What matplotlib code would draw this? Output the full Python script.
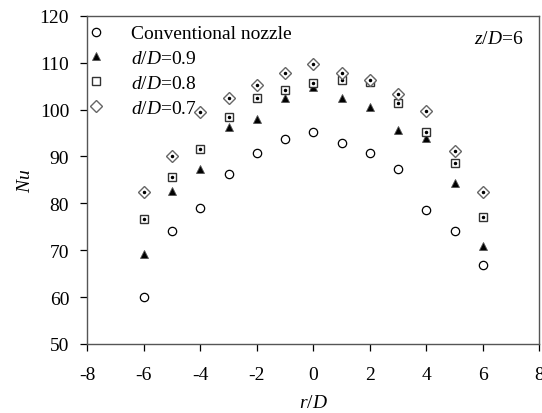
import matplotlib
matplotlib.use("Agg")
import matplotlib.pyplot as plt

plt.rcParams['font.family'] = ['Liberation Serif', 'DejaVu Serif']
plt.rcParams['mathtext.fontset'] = 'custom'
plt.rcParams['mathtext.it'] = 'Liberation Serif:italic'
plt.rcParams['mathtext.rm'] = 'Liberation Serif'
plt.rcParams['axes.unicode_minus'] = False

# --- DATA ---
r_D = [-6, -5, -4, -3, -2, -1, 0, 1, 2, 3, 4, 5, 6]
nu_conv = [60.0, 74.2, 79.0, 86.2, 90.8, 93.8, 95.3, 92.8, 90.8, 87.3, 78.5, 74.2, 66.8]
nu_09 = [69.2, 82.6, 87.3, 96.4, 98.0, 102.5, 104.8, 102.5, 100.5, 95.6, 93.9, 84.3, 70.8]
nu_08 = [76.6, 85.6, 91.6, 98.5, 102.4, 104.3, 105.7, 106.3, 105.8, 101.4, 95.3, 88.7, 77.0]
nu_07 = [82.5, 90.1, 99.4, 102.4, 105.3, 107.9, 109.8, 107.9, 106.3, 103.4, 99.8, 91.2, 82.4]
labels = ['Conventional nozzle', '$d/D$=0.9', '$d/D$=0.8', '$d/D$=0.7']

fig = plt.figure(figsize=(5.42, 4.14), dpi=100)
ax = fig.add_axes([0.161, 0.167, 0.834, 0.792])

ax.plot(r_D, nu_conv, 'o', ms=6, mfc='white', mec='black', mew=0.9, label=labels[0])
ax.plot(r_D, nu_09, '^', ms=6, mfc='black', mec='#555555', mew=0.6, label=labels[1])
ax.plot(r_D, nu_08, 's', ms=6, mfc='white', mec='#333333', mew=1.0, label=labels[2])
ax.plot(r_D, nu_08, '.', ms=3, color='black')
ax.plot(r_D, nu_07, 'D', ms=6, mfc='white', mec='#666666', mew=1.0, label=labels[3])
ax.plot(r_D, nu_07, '.', ms=3, color='black')

ax.set_xlim(-8, 8)
ax.set_ylim(50, 120)
ax.set_xticks(range(-8, 9, 2))
ax.set_yticks(range(50, 121, 10))
ax.tick_params(direction='out', length=5, width=0.9, labelsize=14, colors='black',
               top=False, right=False)
ax.tick_params(axis='y', pad=8)
ax.tick_params(axis='x', pad=11)
for s in ax.spines.values():
    s.set_color('#555555')
    s.set_linewidth(1.0)

ax.set_xlabel('$r/D$', fontsize=14, labelpad=8)
ax.set_ylabel('$Nu$', fontsize=14, labelpad=4)

ax.legend(loc='upper left', frameon=False, fontsize=14, handletextpad=1.5,
          borderaxespad=0.0, borderpad=0.15, labelspacing=0.37, handlelength=0.6,
          bbox_to_anchor=(0.0, 0.982))
ax.text(0.965, 0.918, '$z/D$=6', transform=ax.transAxes, ha='right', fontsize=14)

fig.savefig('out.png', dpi=100)
